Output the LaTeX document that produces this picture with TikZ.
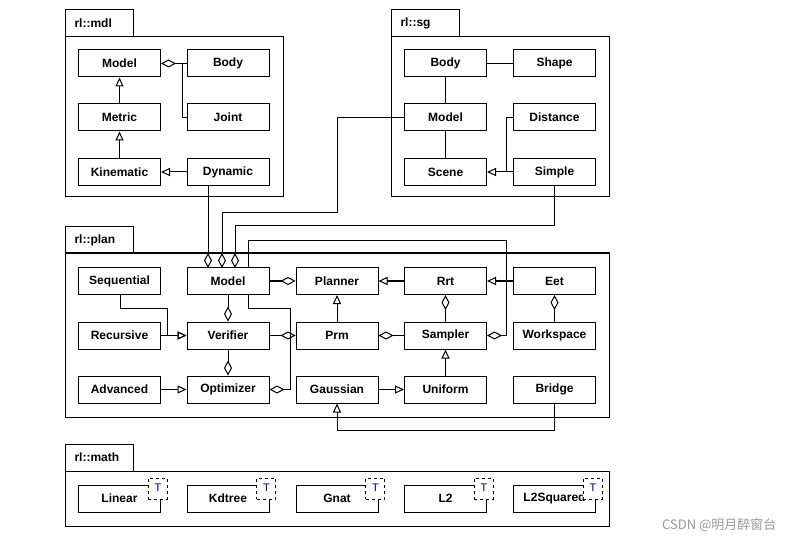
\documentclass[tikz,border=0pt]{standalone}
\usepackage{fontspec}
\setmainfont{Liberation Sans}
\newfontfamily\cjk{Noto Sans CJK SC}
\usetikzlibrary{arrows.meta}
\begin{document}
\begin{tikzpicture}[x=1pt,y=-1pt,
  cls/.style={draw,fill=white,line width=1pt,minimum width=82pt,minimum height=27pt,inner sep=0pt,font=\bfseries\fontsize{12}{14}\selectfont},
  ln/.style={line width=1pt},
  inh/.style={ln,-{Triangle[open,length=9pt,width=8pt]}},
  agg/.style={ln,{Diamond[open,length=15pt,width=8pt]}-},
  pkg/.style={draw,line width=1pt},
  tabt/.style={font=\bfseries\fontsize{12}{14}\selectfont,anchor=west}]
\useasboundingbox[fill=white] (0,0) rectangle (792,545);
% packages
\draw[pkg] (65,10) rectangle (133,37); \node[tabt] (tmdl) at (71,23.5) {rl::mdl};
\draw[pkg] (65,37) rectangle (283,197);
\draw[pkg] (391,10) rectangle (459,37); \node[tabt] (tsg) at (397,23.5) {rl::sg};
\draw[pkg] (391,37) rectangle (609,197);
\draw[pkg] (65,227) rectangle (133,253); \node[tabt] (tplan) at (71,240) {rl::plan};
\draw[pkg] (65,253) rectangle (609,417); \draw[line width=2pt] (65,253) -- (609,253);
\draw[pkg] (65,444) rectangle (133,471); \node[tabt] (tmath) at (71,457.5) {rl::math};
\draw[pkg] (65,471) rectangle (609,526);
% mdl
\node[cls] (mModel) at (119.5,63.5) {Model};
\node[cls] (mBody) at (228,63.5) {Body};
\node[cls] (mMetric) at (119.5,117.5) {Metric};
\node[cls] (mJoint) at (228,117.5) {Joint};
\node[cls] (mKin) at (119.5,172) {Kinematic};
\node[cls] (mDyn) at (228,172) {Dynamic};
% sg
\node[cls] (sBody) at (445.5,63.5) {Body};
\node[cls] (sShape) at (554.5,63.5) {Shape};
\node[cls] (sModel) at (445.5,117.5) {Model};
\node[cls] (sDist) at (554.5,117.5) {Distance};
\node[cls] (sScene) at (445.5,172) {Scene};
\node[cls] (sSimple) at (554.5,172) {Simple};
% plan
\node[cls] (pSeq) at (119.5,281) {Sequential};
\node[cls] (pModel) at (228,281) {Model};
\node[cls] (pPlanner) at (337,281) {Planner};
\node[cls] (pRrt) at (445.5,281) {Rrt};
\node[cls] (pEet) at (554.5,281) {Eet};
\node[cls] (pRec) at (119.5,335.5) {Recursive};
\node[cls] (pVer) at (228,335.5) {Verifier};
\node[cls] (pPrm) at (337,335.5) {Prm};
\node[cls] (pSam) at (445.5,335.5) {Sampler};
\node[cls] (pWs) at (554.5,335.5) {Workspace};
\node[cls] (pAdv) at (119.5,389.5) {Advanced};
\node[cls] (pOpt) at (228,389.5) {Optimizer};
\node[cls] (pGau) at (337,389.5) {Gaussian};
\node[cls] (pUni) at (445.5,389.5) {Uniform};
\node[cls] (pBri) at (554.5,389.5) {Bridge};
% math
\foreach \n/\x in {Linear/119.5,Kdtree/228,Gnat/337,L2/445.5,L2Squared/554.5}{
  \node[cls] (x\n) at (\x,498.5) {\n};
  \node[draw,dashed,fill=white,line width=0.8pt,minimum width=19pt,minimum height=21pt,inner sep=0pt,anchor=north east] (t\n) at (\x+48,478) {};
  \node[font=\fontsize{11}{13}\selectfont,text=blue!45!black] (tt\n) at (\x+38.5,488) {T};
}
% mdl edges
\draw[agg] (mModel.east) -- (mBody.west);
\coordinate (j) at (182,63.5);
\draw[ln] (mJoint.west) -| (j);
\draw[inh] (mMetric) -- (mModel);
\draw[inh] (mKin) -- (mMetric);
\draw[inh] (mDyn) -- (mKin);
% sg edges
\draw[ln] (sBody) -- (sShape);
\draw[ln] (sBody) -- (sModel);
\draw[ln] (sModel) -- (sScene);
\draw[inh] (sSimple) -- (sScene);
\coordinate (d) at (506,172);
\draw[ln] (sDist.west) -| (d);
% cross-package
\coordinate (a1) at (208,268); \coordinate (a2) at (222,268); \coordinate (a3) at (235,268);
\draw[agg] (a1) -- (mDyn.south -| a1);
\coordinate (b1) at (337,117.5); \coordinate (b2) at (337,213);
\draw[agg] (a2) |- (b2) -- (b1) -- (sModel.west);
\coordinate (c1) at (554.5,226);
\draw[agg] (a3) |- (c1) -- (sSimple.south);
% plan edges
\draw[agg] (pPlanner.west) -- (pModel.east);
\draw[inh] (pRrt) -- (pPlanner);
\draw[inh] (pEet) -- (pRrt);
\draw[agg] (pRrt.south) -- (pSam.north);
\draw[agg] (pEet.south) -- (pWs.north);
\draw[inh] (pPrm) -- (pPlanner);
\draw[agg] (pPrm.east) -- (pSam.west);
\draw[agg] (pPrm.west) -- (pVer.east);
\draw[agg] (pVer.north) -- (pModel.south);
\draw[agg] (pOpt.north) -- (pVer.south);
\draw[inh] (pRec) -- (pVer);
\draw[inh] (pAdv) -- (pOpt);
\draw[inh] (pGau) -- (pUni);
\draw[inh] (pUni) -- (pSam);
\coordinate (e1) at (248.5,308); \coordinate (e2) at (290,308);
\draw[agg] (pOpt.east) -| (e2) -- (e1) -- (pModel.south -| e1);
\coordinate (f1) at (120,308); \coordinate (f2) at (167,308);
\draw[inh] (pSeq.south -| f1) -- (f1) -- (f2) |- (pVer.west);
\coordinate (g1) at (248.5,241); \coordinate (g2) at (506,241);
\draw[agg] (pSam.east) -| (g2) -- (g1) -- (pModel.north -| g1);
\coordinate (h1) at (554.5,430); \coordinate (h2) at (337,430);
\draw[inh] (pBri.south) -- (h1) -- (h2) -- (pGau.south);
\node[font=\cjk\fontsize{13}{15}\selectfont,text=gray!80,anchor=east] (wm) at (780,525) {CSDN @明月醉窗台};
\end{tikzpicture}
\end{document}
